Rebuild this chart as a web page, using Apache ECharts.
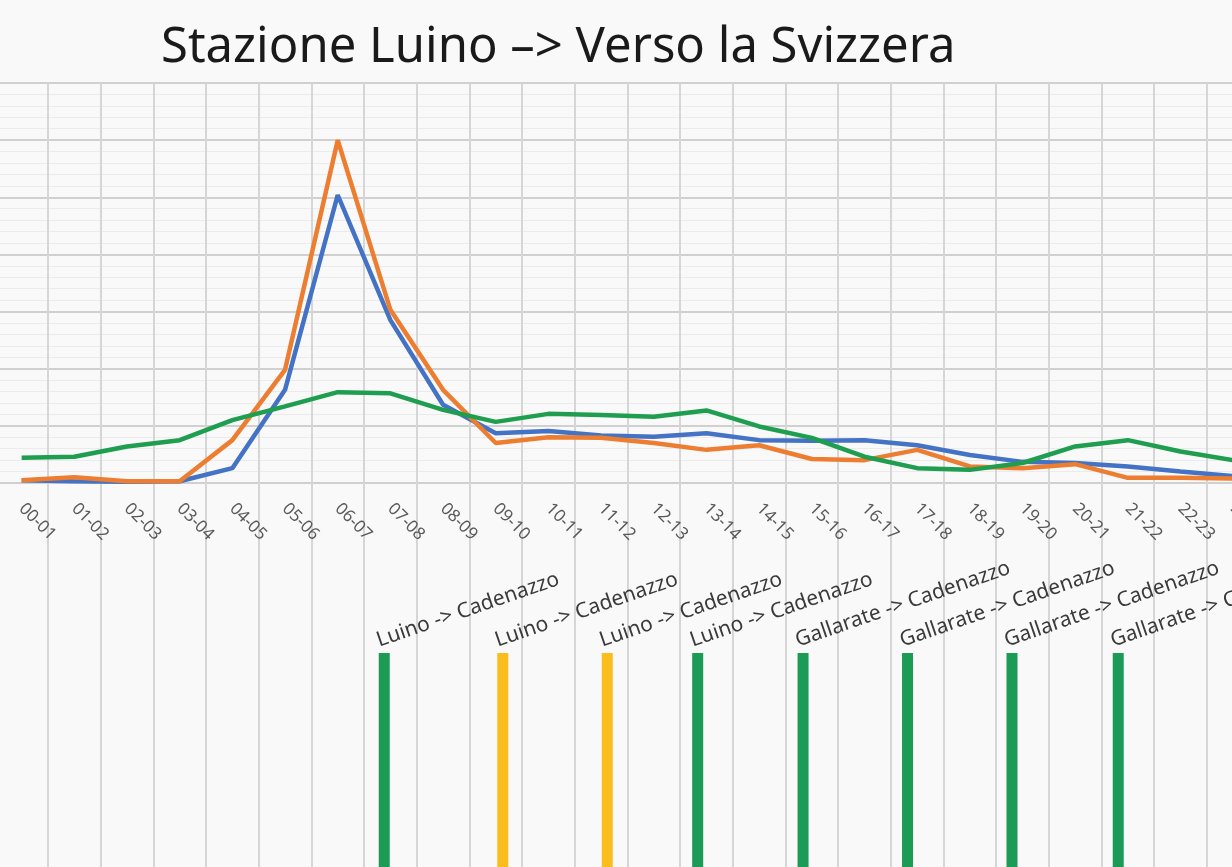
<!DOCTYPE html>
<html>
<head>
<meta charset="utf-8">
<script src="https://cdn.jsdelivr.net/npm/echarts@6.0.0/dist/echarts.min.js"></script>
<style>
html,body{margin:0;padding:0;background:#f9f9f9;}
#chart{width:1232px;height:867px;}
</style>
</head>
<body>
<div id="chart"></div>
<script>
// ---- data ----
const categories = ['00-01','01-02','02-03','03-04','04-05','05-06','06-07','07-08','08-09','09-10','10-11','11-12',
                    '12-13','13-14','14-15','15-16','16-17','17-18','18-19','19-20','20-21','21-22','22-23','23-24'];
const seriesBlue   = [5, 3, 2, 3, 26, 163, 504, 285, 137, 87, 91, 83, 81, 87, 75, 74, 75, 66, 49, 37, 35, 29, 20, 12];
const seriesOrange = [5, 10, 3, 3, 75, 198, 600, 303, 163, 70, 80, 79, 70, 58, 66, 42, 40, 58, 29, 26, 33, 9, 9, 8];
const seriesGreen  = [44, 46, 64, 75, 110, 134, 159, 157, 128, 107, 121, 119, 116, 127, 99, 79, 46, 26, 23, 35, 64, 75, 55, 40];
const yTicks = [0, 100, 200, 300, 400, 500, 600, 700];
const trainTimes  = ['07:23', '09:38', '11:37', '13:20', '15:20', '17:19', '19:18', '21:19'];
const trainRoutes = ['Luino -> Cadenazzo', 'Luino -> Cadenazzo', 'Luino -> Cadenazzo', 'Luino -> Cadenazzo',
                     'Gallarate -> Cadenazzo', 'Gallarate -> Cadenazzo', 'Gallarate -> Cadenazzo', 'Gallarate -> Cadenazzo'];
const trainKinds  = ['green', 'yellow', 'yellow', 'green', 'green', 'green', 'green', 'green'];

// ---- styles ----
const kindColor = { green: '#1b9b55', yellow: '#fbbc1e' };
const gridLeft = -4.7, gridRight = -27.6;
const colLine = { color: '#d6d6d6', width: 2 };

function toHours(t) {
  const p = t.split(':');
  return Number(p[0]) + Number(p[1]) / 60;
}

const chart = echarts.init(document.getElementById('chart'));
chart.setOption({
  backgroundColor: '#f9f9f9',
  animation: false,
  title: {
    text: 'Stazione Luino \u2013> Verso la Svizzera',
    left: 156, top: 19,
    textStyle: { fontFamily: 'Noto Sans, sans-serif', fontSize: 49, fontWeight: 'normal', color: '#1a1a1a' }
  },
  grid: [
    { left: gridLeft, right: gridRight, top: 83, bottom: 384, outerBoundsMode: 'none', containLabel: false },
    { left: gridLeft, right: gridRight, top: 483, bottom: 0, outerBoundsMode: 'none', containLabel: false },
    { left: gridLeft, right: gridRight, top: 653, bottom: 0, outerBoundsMode: 'none', containLabel: false }
  ],
  xAxis: [
    {
      type: 'category', gridIndex: 0, data: categories, boundaryGap: true,
      axisLine: { show: false }, axisTick: { show: false },
      axisLabel: { interval: 0, rotate: -45, margin: 23, color: '#595959', fontSize: 17, fontFamily: 'Noto Sans, sans-serif' },
      splitLine: { show: true, interval: 0, lineStyle: colLine }
    },
    {
      type: 'value', gridIndex: 1, min: 0, max: 24, interval: 1,
      axisLine: { show: false }, axisTick: { show: false }, axisLabel: { show: false },
      splitLine: { show: true, lineStyle: colLine }
    },
    {
      type: 'value', gridIndex: 2, min: 0, max: 24, interval: 1,
      axisLine: { show: false }, axisTick: { show: false }, axisLabel: { show: false },
      splitLine: { show: false }
    }
  ],
  yAxis: [
    {
      type: 'value', gridIndex: 0, min: yTicks[0], max: yTicks[yTicks.length - 1], interval: yTicks[1] - yTicks[0],
      axisLine: { show: false }, axisTick: { show: false }, axisLabel: { show: false },
      splitLine: { show: true, lineStyle: { color: '#d0d0d0', width: 2 } },
      minorTick: { show: false, splitNumber: 5 },
      minorSplitLine: { show: true, lineStyle: { color: '#ebebeb', width: 1 } }
    },
    { type: 'value', gridIndex: 1, min: 0, max: 1, show: false },
    { type: 'value', gridIndex: 2, min: 0, max: 1, show: false }
  ],
  series: [
    { type: 'line', name: 'blue', xAxisIndex: 0, yAxisIndex: 0, data: seriesBlue, symbol: 'none',
      lineStyle: { color: '#4472c4', width: 4.5 }, itemStyle: { color: '#4472c4' } },
    { type: 'line', name: 'orange', xAxisIndex: 0, yAxisIndex: 0, data: seriesOrange, symbol: 'none',
      lineStyle: { color: '#ed7d31', width: 4.5 }, itemStyle: { color: '#ed7d31' } },
    { type: 'line', name: 'green', xAxisIndex: 0, yAxisIndex: 0, data: seriesGreen, symbol: 'none',
      lineStyle: { color: '#1e9e4e', width: 4.5 }, itemStyle: { color: '#1e9e4e' } },
    {
      type: 'bar', xAxisIndex: 2, yAxisIndex: 2, barWidth: 11,
      data: trainTimes.map((t, i) => ({
        value: [toHours(t), 1],
        itemStyle: { color: kindColor[trainKinds[i]] },
        label: { formatter: trainRoutes[i] }
      })),
      label: {
        show: true, position: [2, -2], rotate: 19, align: 'left', verticalAlign: 'bottom',
        color: '#3a3a3a', fontSize: 21, fontFamily: 'Noto Sans, sans-serif'
      }
    }
  ]
});
</script>
</body>
</html>
